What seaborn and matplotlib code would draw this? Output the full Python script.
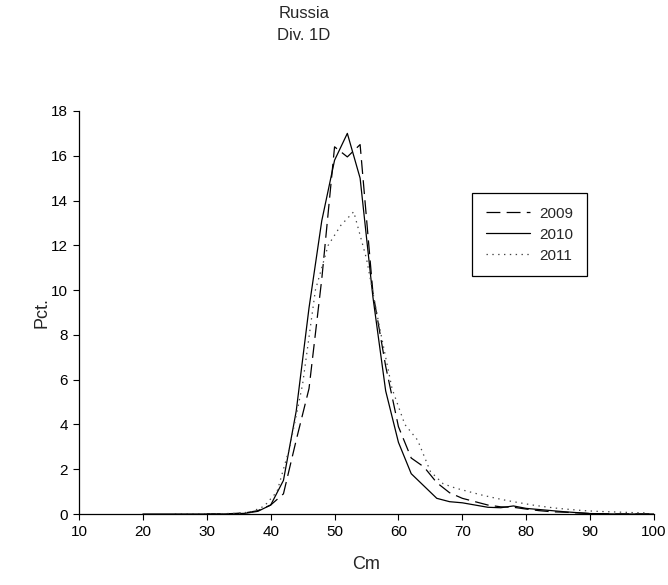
import matplotlib
matplotlib.use("Agg")
import matplotlib.pyplot as plt
import seaborn as sns
import pandas as pd

# ---- data ----
x_2009 = [30, 32, 34, 36, 38, 40, 42, 44, 46, 48, 50, 52, 54, 56, 58, 60, 62, 64, 66, 68,
          70, 72, 74, 76, 78, 80, 82, 84, 86, 88, 90, 92, 94, 96, 98, 100]
y_2009 = [0.0, 0.0, 0.02, 0.05, 0.15, 0.4, 0.9, 3.3, 5.6, 10.5, 16.4, 15.95, 16.5, 9.9, 6.6, 3.9, 2.5, 2.1, 1.4, 0.95,
          0.7, 0.55, 0.4, 0.32, 0.3, 0.22, 0.15, 0.1, 0.08, 0.05, 0.02, 0.01, 0.0, 0.0, 0.0, 0.0]

x_2010 = [20, 22, 24, 26, 28, 30, 32, 34, 36, 38, 40, 42, 44, 46, 48, 50, 52, 54, 56, 58,
          60, 62, 64, 66, 68, 70, 72, 74, 76, 78, 80, 82, 84, 86, 88, 90, 92, 94, 96, 98, 100]
y_2010 = [0.0, 0.0, 0.0, 0.0, 0.0, 0.0, 0.0, 0.01, 0.03, 0.12, 0.4, 1.5, 4.6, 9.2, 13.1, 15.8, 17.0, 15.0, 9.7, 5.5,
          3.2, 1.8, 1.25, 0.7, 0.55, 0.5, 0.4, 0.3, 0.28, 0.36, 0.25, 0.2, 0.15, 0.1, 0.06, 0.02, 0.01, 0.0, 0.0, 0.0, 0.0]

x_2011 = [25, 27, 29, 31, 33, 35, 37, 39, 41, 43, 45, 47, 49, 51, 53, 55, 57, 59, 61, 63,
          65, 67, 69, 71, 73, 75, 77, 79, 81, 83, 85, 87, 89, 91, 93, 95, 97, 99]
y_2011 = [0.01, 0.01, 0.01, 0.01, 0.02, 0.03, 0.1, 0.35, 1.0, 3.0, 5.8, 10.0, 12.0, 12.9, 13.5, 11.4, 8.4, 5.6, 4.0, 3.3,
          1.9, 1.35, 1.15, 1.0, 0.85, 0.72, 0.6, 0.5, 0.4, 0.32, 0.25, 0.2, 0.15, 0.12, 0.1, 0.08, 0.06, 0.05]

years = ["2009", "2010", "2011"]
x_ticks = [10, 20, 30, 40, 50, 60, 70, 80, 90, 100]
y_ticks = [0, 2, 4, 6, 8, 10, 12, 14, 16, 18]

df = pd.concat([
    pd.DataFrame({"Cm": x_2009, "Pct.": y_2009, "year": "2009"}),
    pd.DataFrame({"Cm": x_2010, "Pct.": y_2010, "year": "2010"}),
    pd.DataFrame({"Cm": x_2011, "Pct.": y_2011, "year": "2011"}),
])

# ---- style ----
sns.set_style("ticks")
plt.rcParams["font.family"] = ["Liberation Sans", "DejaVu Sans"]
plt.rcParams["lines.scale_dashes"] = False

styles = {
    "2009": dict(ls=(0, (10, 4.5)), lw=0.9, color="black"),
    "2010": dict(ls="-", lw=0.9, color="black"),
    "2011": dict(ls=(0, (1.0, 3.2)), lw=0.9, color="#444444"),
}

fig = plt.figure(figsize=(6.68, 5.85), dpi=100)
ax = fig.add_axes([79 / 668, 1 - 514 / 585, (654 - 79) / 668, (514 - 111) / 585])

for yr in years:
    sub = df[df["year"] == yr]
    st = styles[yr]
    sns.lineplot(data=sub, x="Cm", y="Pct.", ax=ax, color=st["color"],
                 linestyle=st["ls"], linewidth=st["lw"], label=yr,
                 estimator=None, sort=True)

ax.set_xlim(10, 100)
ax.set_ylim(0, 18)
ax.set_xticks(x_ticks)
ax.set_yticks(y_ticks)
ax.tick_params(axis="both", direction="out", length=4.5, width=0.8, labelsize=11, colors="black")
for s in ["top", "right"]:
    ax.spines[s].set_visible(False)
for s in ["left", "bottom"]:
    ax.spines[s].set_linewidth(0.9)
    ax.spines[s].set_color("black")

ax.set_xlabel("Cm", fontsize=13, labelpad=12)
ax.set_ylabel("Pct.", fontsize=13, labelpad=0)

fig.text(304 / 668, 1 - 13 / 585, "Russia", ha="center", va="center", fontsize=12)
fig.text(304 / 668, 1 - 35 / 585, "Div. 1D", ha="center", va="center", fontsize=12)

leg = ax.legend(loc="upper left", bbox_to_anchor=((472 - 79) / 575, (514 - 193) / 403),
                frameon=True, fancybox=False, shadow=False, fontsize=11,
                handlelength=2.9, handletextpad=0.6, labelspacing=0.45,
                borderpad=0.9, borderaxespad=0)
leg.get_frame().set_edgecolor("black")
leg.get_frame().set_linewidth(0.9)
leg.get_frame().set_facecolor("white")
leg.get_frame().set_alpha(1)

fig.savefig("out.png", dpi=100)
